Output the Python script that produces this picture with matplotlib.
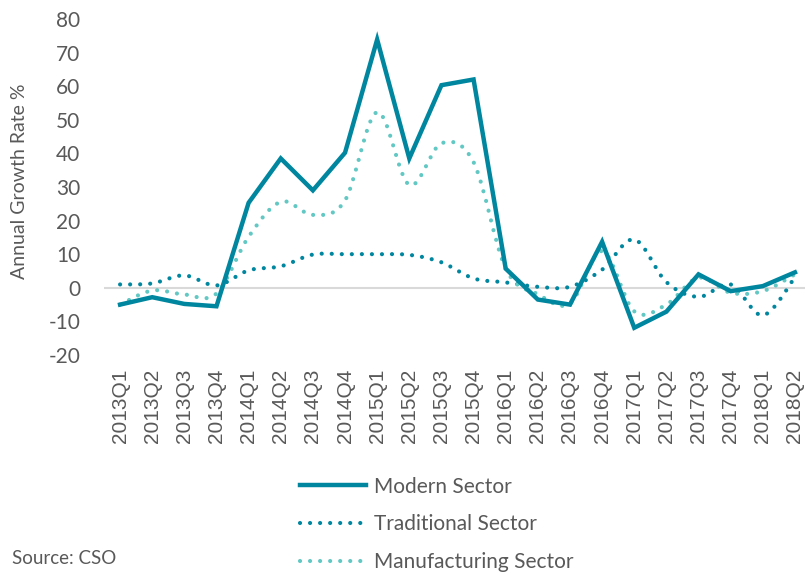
import numpy as np
import matplotlib.pyplot as plt
from matplotlib.path import Path
from matplotlib.patches import PathPatch
from matplotlib.lines import Line2D

plt.rcParams["axes.unicode_minus"] = False

quarters = ["2013Q1", "2013Q2", "2013Q3", "2013Q4", "2014Q1", "2014Q2", "2014Q3", "2014Q4",
            "2015Q1", "2015Q2", "2015Q3", "2015Q4", "2016Q1", "2016Q2", "2016Q3", "2016Q4",
            "2017Q1", "2017Q2", "2017Q3", "2017Q4", "2018Q1", "2018Q2"]
modern = [-5.0, -2.8, -4.8, -5.5, 25.3, 38.5, 29.0, 40.2, 73.9, 38.5, 60.3, 62.0,
          5.7, -3.5, -5.0, 13.7, -11.9, -7.1, 4.0, -1.0, 0.5, 4.6]
traditional = [1.0, 1.3, 3.7, 0.7, 5.2, 6.4, 9.9, 10.0, 10.0, 9.8, 7.6, 2.8,
               1.6, 0.3, 0.3, 5.4, 14.4, 1.7, -2.7, 1.0, -8.2, 3.1]
manufacturing = [-5.0, -0.8, -2.0, -1.7, 15.2, 25.6, 21.7, 26.0, 52.3, 30.6, 43.0, 37.4,
                 5.7, -1.9, -4.7, 10.9, -7.0, -5.0, 3.0, -1.5, -1.0, 4.0]

c_dark = "#00869F"
c_light = "#62C8C4"
c_text = "#595959"


# courbe lissée façon Excel : segments de Bézier cubiques (Catmull-Rom)
def smooth_path(xs, ys):
    pts = np.column_stack([xs, ys]).astype(float)
    n = len(pts)
    verts = [pts[0]]
    codes = [Path.MOVETO]
    for i in range(n - 1):
        p0 = pts[max(i - 1, 0)]
        p1 = pts[i]
        p2 = pts[i + 1]
        p3 = pts[min(i + 2, n - 1)]
        verts += [p1 + (p2 - p0) / 6, p2 - (p3 - p1) / 6, p2]
        codes += [Path.CURVE4] * 3
    return Path(verts, codes)


fig = plt.figure(figsize=(8.05, 5.74), dpi=100)
ax = fig.add_axes([104 / 805, 1 - 355 / 574, 707 / 805, 336 / 574])

x = np.arange(len(quarters))

ax.axhline(0, color="#D9D9D9", lw=1.5, zorder=1)

ax.plot(x, modern, color=c_dark, lw=3.2, solid_joinstyle="miter", zorder=4)

dots = (0, (0.01, 2.4))
for vals, col in [(traditional, c_dark), (manufacturing, c_light)]:
    patch = PathPatch(smooth_path(x, vals), facecolor="none", edgecolor=col, lw=3,
                      linestyle=dots, capstyle="round", zorder=3)
    ax.add_patch(patch)

ax.set_xlim(-0.5, 21.5)
ax.set_ylim(-20, 80)
ax.set_yticks(range(-20, 81, 10))
ax.set_xticks(x)
ax.set_xticklabels(quarters, rotation=90, fontsize=15, family="Liberation Sans", color=c_text)
for lab in ax.get_yticklabels():
    lab.set_fontfamily("Lato")
    lab.set_fontsize(15)
    lab.set_color(c_text)
ax.tick_params(length=0, pad=10)
ax.tick_params(axis="y", pad=17)
for s in ax.spines.values():
    s.set_visible(False)

fig.text(20 / 805, 1 - 181 / 574, "Annual Growth Rate %", rotation=90, ha="center", va="center",
         family="Lato", fontsize=14, color=c_text)

handles = [Line2D([], [], color=c_dark, lw=3.2),
           Line2D([], [], color=c_dark, lw=3, linestyle=dots, dash_capstyle="round"),
           Line2D([], [], color=c_light, lw=3, linestyle=dots, dash_capstyle="round")]
labels = ["Modern Sector", "Traditional Sector", "Manufacturing Sector"]
fig.legend(handles, labels, loc="upper left", bbox_to_anchor=(281 / 805, 1 - 458 / 574),
           frameon=False, handlelength=3.2, handletextpad=0.35, labelspacing=0.85,
           prop={"family": "Lato", "size": 15}, labelcolor=c_text)

fig.text(12 / 805, 1 - 558 / 574, "Source: CSO", ha="left", va="center",
         family="Lato", fontsize=13.5, color=c_text)

fig.savefig("out.png", dpi=100)
